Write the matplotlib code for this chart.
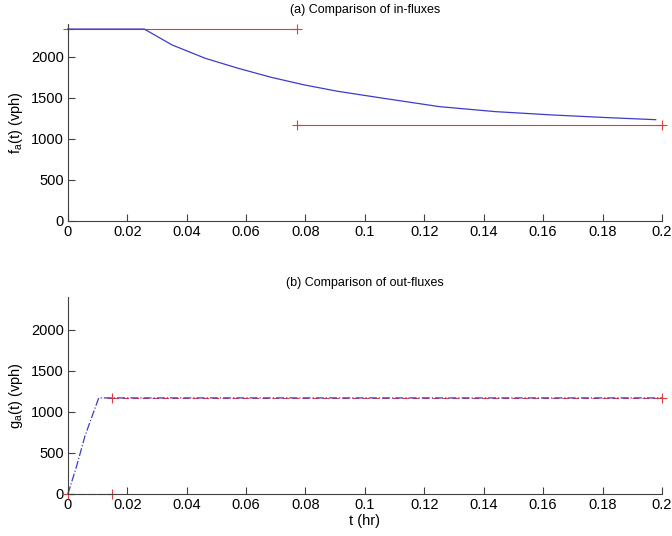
import matplotlib
matplotlib.use('Agg')
import matplotlib.pyplot as plt

plt.rcParams['font.family'] = ['Liberation Sans', 'DejaVu Sans']
plt.rcParams['font.size'] = 10

# (a) in-fluxes
t_in_a = [0, 0.077]
f_in_a = [2340, 2340]
t_in_b = [0.077, 0.2]
f_in_b = [1170, 1170]
t_in_blue = [0, 0.0257, 0.0351, 0.0462, 0.0573, 0.0684, 0.0796, 0.0907,
             0.1062, 0.1251, 0.144, 0.1629, 0.1818, 0.1979]
f_in_blue = [2340, 2340, 2146, 1984, 1862, 1752, 1659, 1582,
             1496, 1394, 1333, 1293, 1260, 1235]

# (b) out-fluxes
t_out_a = [0, 0.015]
g_out_a = [0, 0]
t_out_b = [0.015, 0.2]
g_out_b = [1170, 1170]
t_out_blue = [0, 0.0029, 0.0057, 0.0073, 0.0104, 0.2]
g_out_blue = [0, 333, 699, 862, 1170, 1170]

xticks = [0, 0.02, 0.04, 0.06, 0.08, 0.1, 0.12, 0.14, 0.16, 0.18, 0.2]
xticklabels = ['0', '0.02', '0.04', '0.06', '0.08', '0.1', '0.12', '0.14', '0.16', '0.18', '0.2']
yticks = [0, 500, 1000, 1500, 2000]

red = '#e03c3c'
blue = '#3c3cc8'

fig = plt.figure(figsize=(6.72, 5.36), dpi=100)
ax1 = fig.add_axes([0.101, 0.5877, 0.884, 0.3673])
ax2 = fig.add_axes([0.101, 0.0784, 0.884, 0.3676])

def style(ax):
    ax.set_xlim(0, 0.2)
    ax.set_ylim(0, 2400)
    ax.set_xticks(xticks)
    ax.set_xticklabels(xticklabels)
    ax.set_yticks(yticks)
    ax.spines['top'].set_visible(False)
    ax.spines['right'].set_visible(False)
    for s in ('left', 'bottom'):
        ax.spines[s].set_color('#404040')
        ax.spines[s].set_linewidth(0.8)
    ax.tick_params(direction='in', length=5, width=0.8, color='#404040', labelsize=10.5, pad=3)

# 上圖
ax1.plot(t_in_a, f_in_a, color=red, lw=0.8, marker='+', ms=7, mew=0.8, clip_on=False)
ax1.plot(t_in_b, f_in_b, color=red, lw=0.8, marker='+', ms=7, mew=0.8, clip_on=False)
ax1.plot(t_in_blue, f_in_blue, color=blue, lw=0.9, clip_on=False)
style(ax1)
ax1.set_ylabel('f$_\\mathregular{a}$(t) (vph)', fontsize=10.5)
ax1.set_title('(a) Comparison of in-fluxes', fontsize=9, pad=8)

# 下圖
ax2.plot(t_out_a, g_out_a, color=red, lw=0.8, ls='--', dashes=(6, 3), marker='+', ms=7, mew=0.8, clip_on=False)
ax2.plot(t_out_b, g_out_b, color=red, lw=0.8, ls='--', dashes=(6, 3), marker='+', ms=7, mew=0.8, clip_on=False)
ax2.plot(t_out_blue, g_out_blue, color=blue, lw=0.9, ls='-.', clip_on=False)
style(ax2)
ax2.set_ylabel('g$_\\mathregular{a}$(t) (vph)', fontsize=10.5)
ax2.set_xlabel('t (hr)', fontsize=10.5, labelpad=1)
ax2.set_title('(b) Comparison of out-fluxes', fontsize=9, pad=8)

fig.savefig('out.png', dpi=100)
